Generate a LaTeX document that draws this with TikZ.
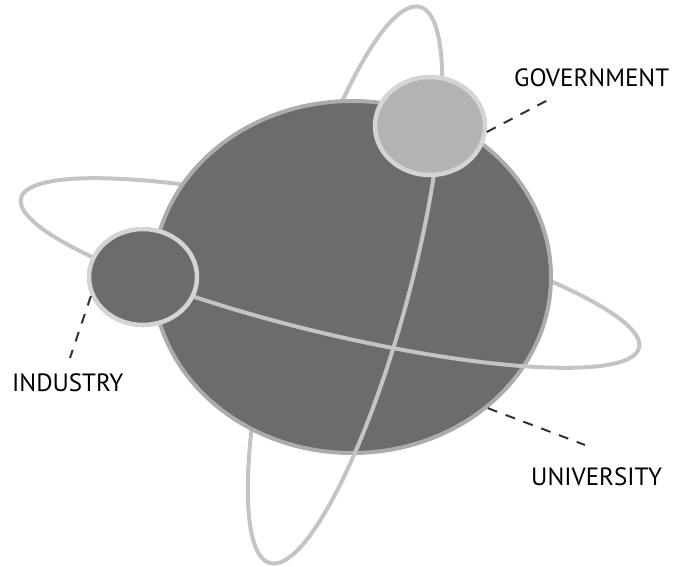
\documentclass[tikz,border=0pt]{standalone}
\usepackage{fontspec}
\setmainfont{PT Sans}
\usetikzlibrary{shapes.geometric}
\definecolor{globefill}{HTML}{6C6C6F}
\definecolor{globerim}{HTML}{ACACAE}
\definecolor{orbitgray}{HTML}{C4C4C5}
\definecolor{moonrim}{HTML}{D4D4D5}
\definecolor{govfill}{HTML}{B3B3B5}
\definecolor{leadergray}{HTML}{333333}
\tikzset{
	orbitline/.style={draw=orbitgray, line width=4pt},
	leaderline/.style={draw=leadergray, line width=2pt, dash pattern=on 10pt off 9pt},
	moon/.style={ellipse, draw=moonrim, line width=4.5pt, inner sep=0pt},
	lbl/.style={inner sep=0pt, anchor=base west, font=\fontsize{25}{30}\selectfont}
}
\begin{document}
\begin{tikzpicture}[x=1pt, y=1pt]
\useasboundingbox (0,0) rectangle (673,-567);
% back halves of the two orbits
\begin{scope}[shift={(345,-285)}, rotate=-15.1]
	\draw[orbitline] (0,288) arc[start angle=90, end angle=270, x radius=64pt, y radius=288pt];
\end{scope}
\begin{scope}[shift={(330,-273)}, rotate=-13.6]
	\draw[orbitline] (318,0) arc[start angle=0, end angle=180, x radius=318pt, y radius=60pt];
\end{scope}
% the globe
\node[ellipse, fill=globefill, draw=globerim, line width=4pt, inner sep=0pt,
	minimum width=398pt, minimum height=352pt] (globe) at (352,-277) {};
% front halves
\begin{scope}[shift={(345,-285)}, rotate=-15.1]
	\draw[orbitline] (0,-288) arc[start angle=-90, end angle=90, x radius=64pt, y radius=288pt];
\end{scope}
\begin{scope}[shift={(330,-273)}, rotate=-13.6]
	\draw[orbitline] (-318,0) arc[start angle=180, end angle=360, x radius=318pt, y radius=60pt];
\end{scope}
% the two moons
\node[moon, fill=govfill, minimum width=110pt, minimum height=98pt] (gov) at (430,-126) {};
\node[moon, fill=globefill, minimum width=108pt, minimum height=96pt] (ind) at (143,-277) {};
% labels
\foreach \n/\x/\y/\t in {
	govlbl/514/87/GOVERNMENT
	,indlbl/12/391/INDUSTRY
	,unilbl/531/485/UNIVERSITY
}{
	\node[lbl] (\n) at (\x,-\y) {\t};
}
\coordinate (govend) at (548,-100);
\coordinate (indend) at (70,-358);
\coordinate (uniend) at (585,-445);
\foreach \u/\v in {%
	gov.-6/govend%
	,ind.200/indend%
	,globe.-44/uniend%
}{
\draw[leaderline] (\u) -- (\v);
}
\end{tikzpicture}
\end{document}
